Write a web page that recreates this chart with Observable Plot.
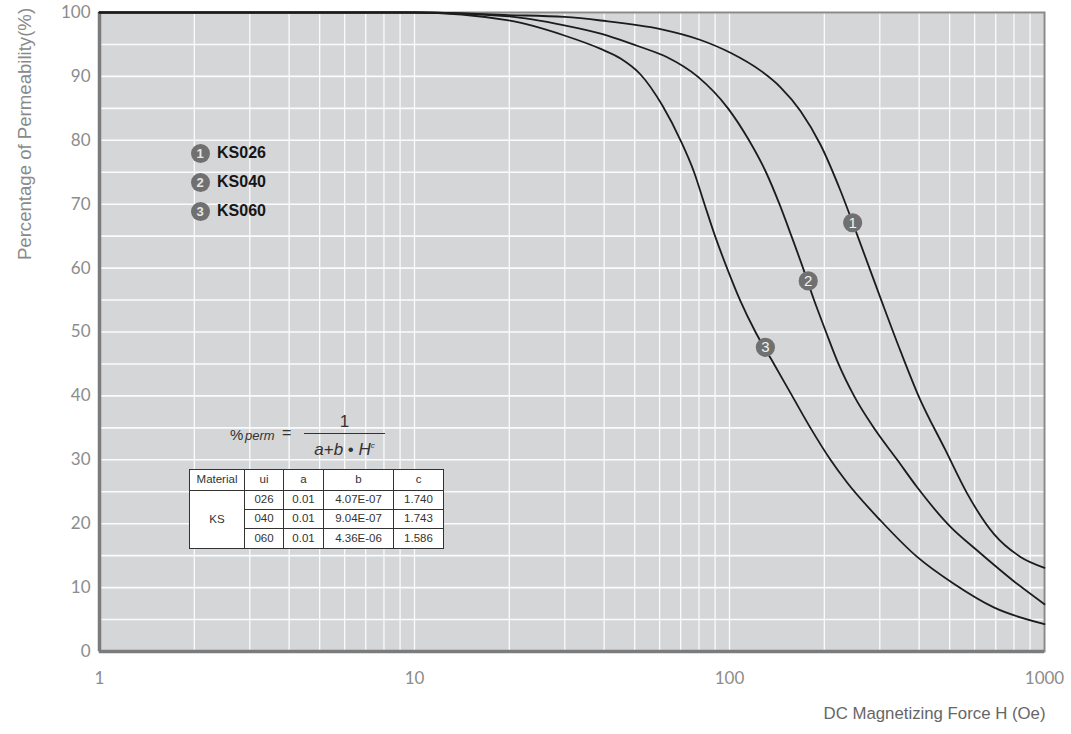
<!DOCTYPE html>
<html>
<head>
<meta charset="utf-8">
<script src="https://cdn.jsdelivr.net/npm/d3@7"></script>
<script src="https://cdn.jsdelivr.net/npm/@observablehq/plot@0.6"></script>
<style>
  body { margin: 0; background: #fff; }
  #wrap { position: relative; width: 1071px; height: 734px; overflow: hidden; }
  .abs { position: absolute; line-height: 1; white-space: nowrap; }
  .leg-dot { position: absolute; width: 19px; height: 19px; border-radius: 50%; background: #707070;
             color: #e6e6e6; font: bold 13px "Liberation Sans", Arial, sans-serif; text-align: center; line-height: 19px; }
  .leg-name { position: absolute; font: bold 16px "Liberation Sans", Arial, sans-serif; color: #151515; line-height: 1; }
  table.params { position: absolute; left: 189px; top: 469px; border-collapse: collapse; background: #fff;
                 font: 11.5px "Liberation Sans", Arial, sans-serif; color: #333; border: 1.5px solid #333; }
  table.params td { border: 1px solid #333; text-align: center; padding: 0; line-height: 1; }
</style>
</head>
<body>
<div id="wrap"></div>
<script>
// ---- data ----
const seriesNames = ["KS026", "KS040", "KS060"];
const ks026H = [1, 10, 19.9, 29.9, 39.0, 60.4, 80.9, 100.7, 125.5, 145.2, 168.0, 194.5, 225.1, 254.3, 301.6, 349.1, 399.0, 485.0, 568.5, 690.2, 839, 1000];
const ks026V = [100, 100, 99.6, 99.3, 98.75, 97.4, 95.7, 93.7, 90.9, 88.3, 84.6, 79.3, 72.1, 65.2, 55.3, 47.0, 39.9, 31.5, 24.7, 18.4, 14.8, 13.1];
const ks040H = [1, 10, 19.9, 29.9, 39.0, 52.2, 63.4, 79.1, 98.9, 115.3, 130.6, 144.1, 157.3, 171.2, 185.5, 202.5, 221.8, 248.5, 287.1, 340.7, 394.3, 503, 611.5, 799, 1000];
const ks040V = [100, 100, 99.4, 98.0, 96.7, 94.6, 93.0, 90, 85, 80, 75, 70, 65, 60, 55, 50, 45, 40, 35, 30, 25.7, 19.5, 15.8, 11.0, 7.4];
const ks060H = [1, 10, 19.9, 29.9, 39.0, 45.1, 52.2, 61.3, 69.9, 77.2, 83.3, 90.0, 98.2, 108.0, 120.9, 138.4, 158.1, 180.7, 209.2, 236.5, 301.6, 394.3, 515.2, 690.2, 1000];
const ks060V = [100, 100, 98.75, 96.4, 94.3, 92.8, 90.3, 85.4, 80, 75, 70, 65, 60, 55, 50, 45, 40, 35, 30, 26.4, 20.5, 14.8, 10.6, 6.9, 4.3];

const markerLabels = ["1", "2", "3"];
const markerH = [246, 177.8, 130];
const markerV = [67.1, 58.0, 47.6];

const xTicks = [1, 10, 100, 1000];
const yTicks = [0, 10, 20, 30, 40, 50, 60, 70, 80, 90, 100];
const yGrid = [0, 5, 10, 15, 20, 25, 30, 35, 40, 45, 50, 55, 60, 65, 70, 75, 80, 85, 90, 95, 100];

const xTitle = "DC Magnetizing Force H (Oe)";
const yTitle = "Percentage of Permeability(%)";

const tableHeader = ["Material", "ui", "a", "b", "c"];
const tableMaterial = "KS";
const tableUi = ["026", "040", "060"];
const tableA = ["0.01", "0.01", "0.01"];
const tableB = ["4.07E-07", "9.04E-07", "4.36E-06"];
const tableC = ["1.740", "1.743", "1.586"];

// ---- build tables for the library ----
const rows = [];
[[ks026H, ks026V], [ks040H, ks040V], [ks060H, ks060V]].forEach(([H, V], i) =>
  H.forEach((h, j) => rows.push({series: seriesNames[i], H: h, v: V[j]})));
const markers = markerLabels.map((l, i) => ({label: l, H: markerH[i], v: markerV[i]}));

const chart = Plot.plot({
  width: 1071,
  height: 734,
  marginLeft: 99,
  marginRight: 27,
  marginTop: 12,
  marginBottom: 83,
  style: {fontFamily: "Lato, 'Liberation Sans', sans-serif", background: "#fff", color: "#8c8c8c"},
  x: {type: "log", domain: [1, 1000]},
  y: {domain: [0, 100]},
  marks: [
    Plot.frame({fill: "#d5d6d8"}),
    Plot.gridX({stroke: "#fbfbfb", strokeOpacity: 1, strokeWidth: 1.3}),
    Plot.gridY({ticks: yGrid, stroke: "#fbfbfb", strokeOpacity: 1, strokeWidth: 1.6}),
    Plot.frame({stroke: "#8a8a8a", strokeWidth: 2}),
    Plot.ruleX([1], {stroke: "#7b7b7b", strokeWidth: 3.5}),
    Plot.ruleY([0], {stroke: "#7b7b7b", strokeWidth: 3.5}),
    Plot.line(rows, {x: "H", y: "v", z: "series", stroke: "#1c1c1c", strokeWidth: 1.8, curve: "monotone-x"}),
    Plot.dot(markers, {x: "H", y: "v", r: 9.6, fill: "#707070"}),
    Plot.text(markers, {x: "H", y: "v", text: "label", fill: "#f2f2f2", fontSize: 15, fontFamily: "'Liberation Sans', Arial, sans-serif"}),
    Plot.axisX({ticks: xTicks, tickSize: 0, tickPadding: 20, tickFormat: d => String(d), fontSize: 17, label: null}),
    Plot.axisY({ticks: yTicks, tickSize: 0, tickPadding: 9, fontSize: 17, label: null}),
    Plot.text([yTitle], {frameAnchor: "top-left", dx: -82, dy: 121.5, rotate: -90, textAnchor: "middle",
      fontSize: 18.6, fontFamily: "'Liberation Sans', Arial, sans-serif", fill: "#8a8a8a"}),
    Plot.text([xTitle], {frameAnchor: "bottom-right", dx: 1, dy: 67, textAnchor: "end",
      fontSize: 16.8, fontFamily: "'Liberation Sans', Arial, sans-serif", fill: "#666"})
  ]
});

const wrap = document.getElementById("wrap");
wrap.appendChild(chart);

// ---- legend (annotation) ----
seriesNames.forEach((name, i) => {
  const cy = 153 + i * 29;
  const dot = document.createElement("div");
  dot.className = "leg-dot";
  dot.style.left = (200 - 9.5) + "px";
  dot.style.top = (cy - 9.5) + "px";
  dot.textContent = markerLabels[i];
  wrap.appendChild(dot);
  const t = document.createElement("div");
  t.className = "leg-name";
  t.style.left = "217px";
  t.style.top = (cy - 8) + "px";
  t.textContent = name;
  wrap.appendChild(t);
});

// ---- formula (annotation) ----
function addAbs(html, styles) {
  const d = document.createElement("div");
  d.className = "abs";
  d.innerHTML = html;
  Object.assign(d.style, styles);
  wrap.appendChild(d);
  return d;
}
const ff = "'Liberation Sans', Arial, sans-serif";
addAbs("%", {left: "230px", top: "427px", fontSize: "15px", fontFamily: ff, color: "#333"});
addAbs("<i>perm</i>", {left: "245px", top: "429px", fontSize: "13px", fontFamily: ff, color: "#333"});
addAbs("=", {left: "282px", top: "425px", fontSize: "16px", fontFamily: ff, color: "#333"});
addAbs("1", {left: "304px", width: "81px", textAlign: "center", top: "413px", fontSize: "17px", fontFamily: ff, color: "#333"});
addAbs("", {left: "304px", top: "433px", width: "81px", height: "1px", background: "#333"});
addAbs("<i>a</i>+<i>b</i> \u2022 <i>H</i><sup style='font-size:8px;vertical-align:7px;font-style:italic'>c</sup>",
  {left: "304px", width: "81px", textAlign: "center", top: "441px", fontSize: "17px", fontFamily: ff, color: "#333"});

// ---- parameter table (annotation) ----
const colW = [54, 38, 39, 69, 49];
const rowH = [20, 18, 18, 19];
const tbl = document.createElement("table");
tbl.className = "params";
const hr = tbl.insertRow();
tableHeader.forEach((h, i) => {
  const c = hr.insertCell();
  c.textContent = h;
  c.style.width = colW[i] + "px";
  c.style.height = rowH[0] + "px";
});
tableUi.forEach((u, r) => {
  const tr = tbl.insertRow();
  if (r === 0) {
    const m = tr.insertCell();
    m.textContent = tableMaterial;
    m.rowSpan = tableUi.length;
  }
  [u, tableA[r], tableB[r], tableC[r]].forEach(v => {
    const c = tr.insertCell();
    c.textContent = v;
    c.style.height = rowH[r + 1] + "px";
  });
});
wrap.appendChild(tbl);
</script>
</body>
</html>
